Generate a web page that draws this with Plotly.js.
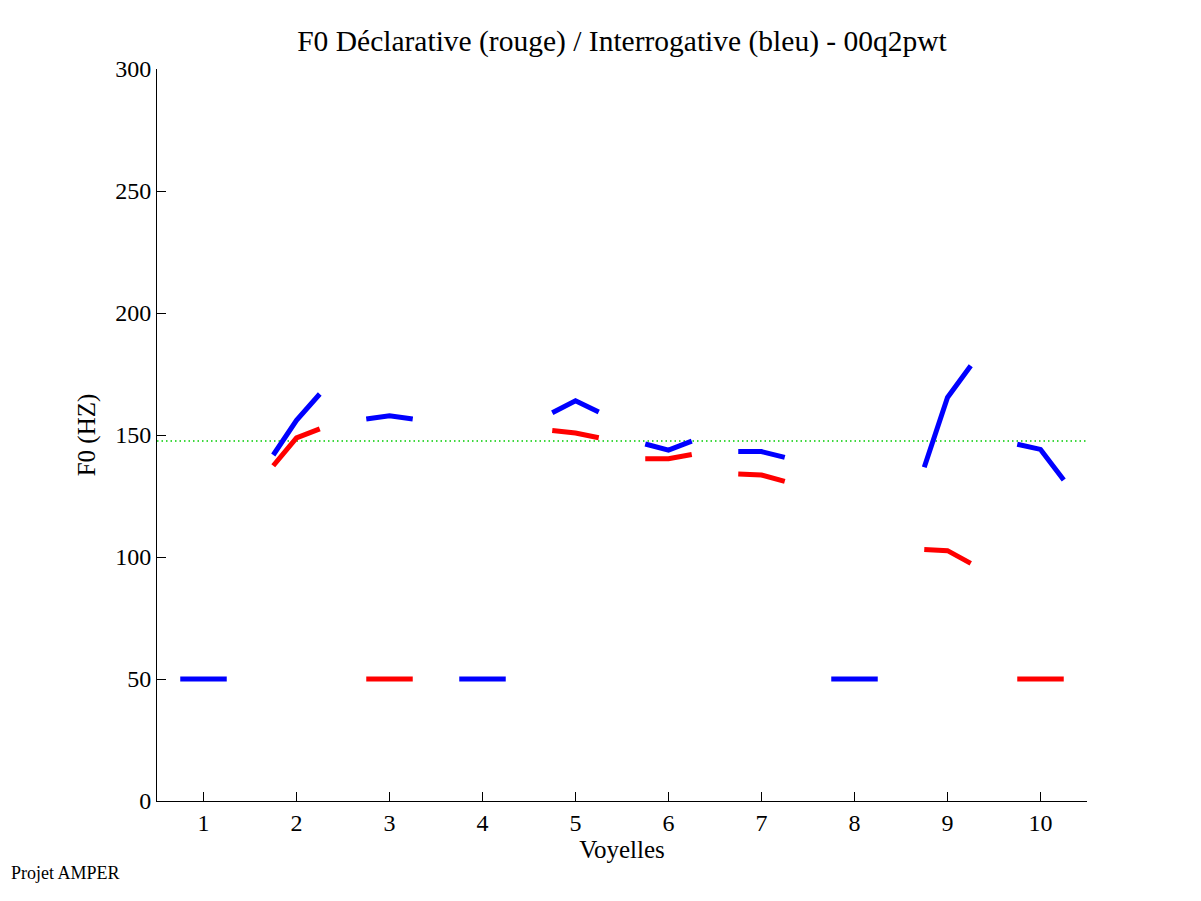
<!DOCTYPE html>
<html>
<head>
<meta charset="utf-8">
<script src="https://cdn.plot.ly/plotly-3.0.1.min.js"></script>
<style>html,body{margin:0;padding:0;background:#fff;}#chart{width:1201px;height:901px;}</style>
</head>
<body>
<div id="chart"></div>
<script>
// Vowel indices (x axis categories)
const vowels = [1, 2, 3, 4, 5, 6, 7, 8, 9, 10];
const tickLabels = ["1", "2", "3", "4", "5", "6", "7", "8", "9", "10"];
// F0 values (Hz): start, middle, end of each vowel; null = no segment
const declarative = [
  null,
  [137.4, 148.8, 152.5],
  [50, 50, 50],
  null,
  [151.8, 150.8, 148.9],
  [140.3, 140.3, 142.0],
  [134.0, 133.6, 131.0],
  null,
  [103.1, 102.6, 97.4],
  [50, 50, 50]
];
const interrogative = [
  [50, 50, 50],
  [141.8, 156.0, 166.8],
  [156.6, 157.9, 156.6],
  [50, 50, 50],
  [159.1, 164.0, 159.4],
  [146.3, 143.8, 147.5],
  [143.2, 143.2, 140.8],
  [50, 50, 50],
  [136.8, 165.4, 178.4],
  [146.2, 144.1, 131.6]
];
const meanF0 = 147.5;

function buildSeries(vals) {
  const xs = [], ys = [];
  vowels.forEach((v, i) => {
    const seg = vals[i];
    if (!seg) return;
    const offs = [-0.25, 0, 0.25];
    seg.forEach((y, k) => { xs.push(v + offs[k]); ys.push(y); });
    xs.push(null); ys.push(null);
  });
  return {x: xs, y: ys};
}

const red = buildSeries(declarative);
const blue = buildSeries(interrogative);
const font = "'Liberation Serif', 'Times New Roman', serif";

const traces = [
  {x: [0.5, 10.5], y: [meanF0, meanF0], mode: 'lines', line: {color: '#00cc00', width: 1.5, dash: '1.5px,3px'}, hoverinfo: 'skip'},
  {x: red.x, y: red.y, mode: 'lines', line: {color: '#ff0000', width: 5}, connectgaps: false},
  {x: blue.x, y: blue.y, mode: 'lines', line: {color: '#0000ff', width: 5}, connectgaps: false}
];

const layout = {
  width: 1201, height: 901,
  paper_bgcolor: '#fff', plot_bgcolor: '#fff',
  showlegend: false,
  margin: {l: 157, r: 114, t: 69, b: 100},
  font: {family: font, color: '#000', size: 24},
  title: {text: 'F0 Déclarative (rouge) / Interrogative (bleu) - 00q2pwt', font: {family: font, size: 29.5, color: '#000'}, x: 0.5179, xanchor: 'center', y: 0.955, yanchor: 'middle'},
  xaxis: {
    range: [0.5, 10.5], tickvals: vowels, ticktext: tickLabels,
    showline: true, linecolor: '#000', linewidth: 1, mirror: false,
    ticks: 'inside', ticklen: 9, tickcolor: '#000', showgrid: false, zeroline: false,
    tickfont: {family: font, size: 24}, title: {text: 'Voyelles', font: {family: font, size: 25}, standoff: 4}
  },
  yaxis: {
    range: [0, 300], tickvals: [0, 50, 100, 150, 200, 250, 300],
    showline: true, linecolor: '#000', linewidth: 1, mirror: false,
    ticks: 'inside', ticklen: 9, tickcolor: '#000', showgrid: false, zeroline: false,
    tickfont: {family: font, size: 24}, title: {text: 'F0 (HZ)', font: {family: font, size: 25}, standoff: 12}
  },
  annotations: [
    {text: 'Projet AMPER', xref: 'paper', yref: 'paper', x: -0.159, y: -0.0984, xanchor: 'left', yanchor: 'middle', showarrow: false, font: {family: font, size: 18, color: '#000'}}
  ]
};

Plotly.newPlot('chart', traces, layout, {displayModeBar: false, staticPlot: true});
</script>
</body>
</html>
